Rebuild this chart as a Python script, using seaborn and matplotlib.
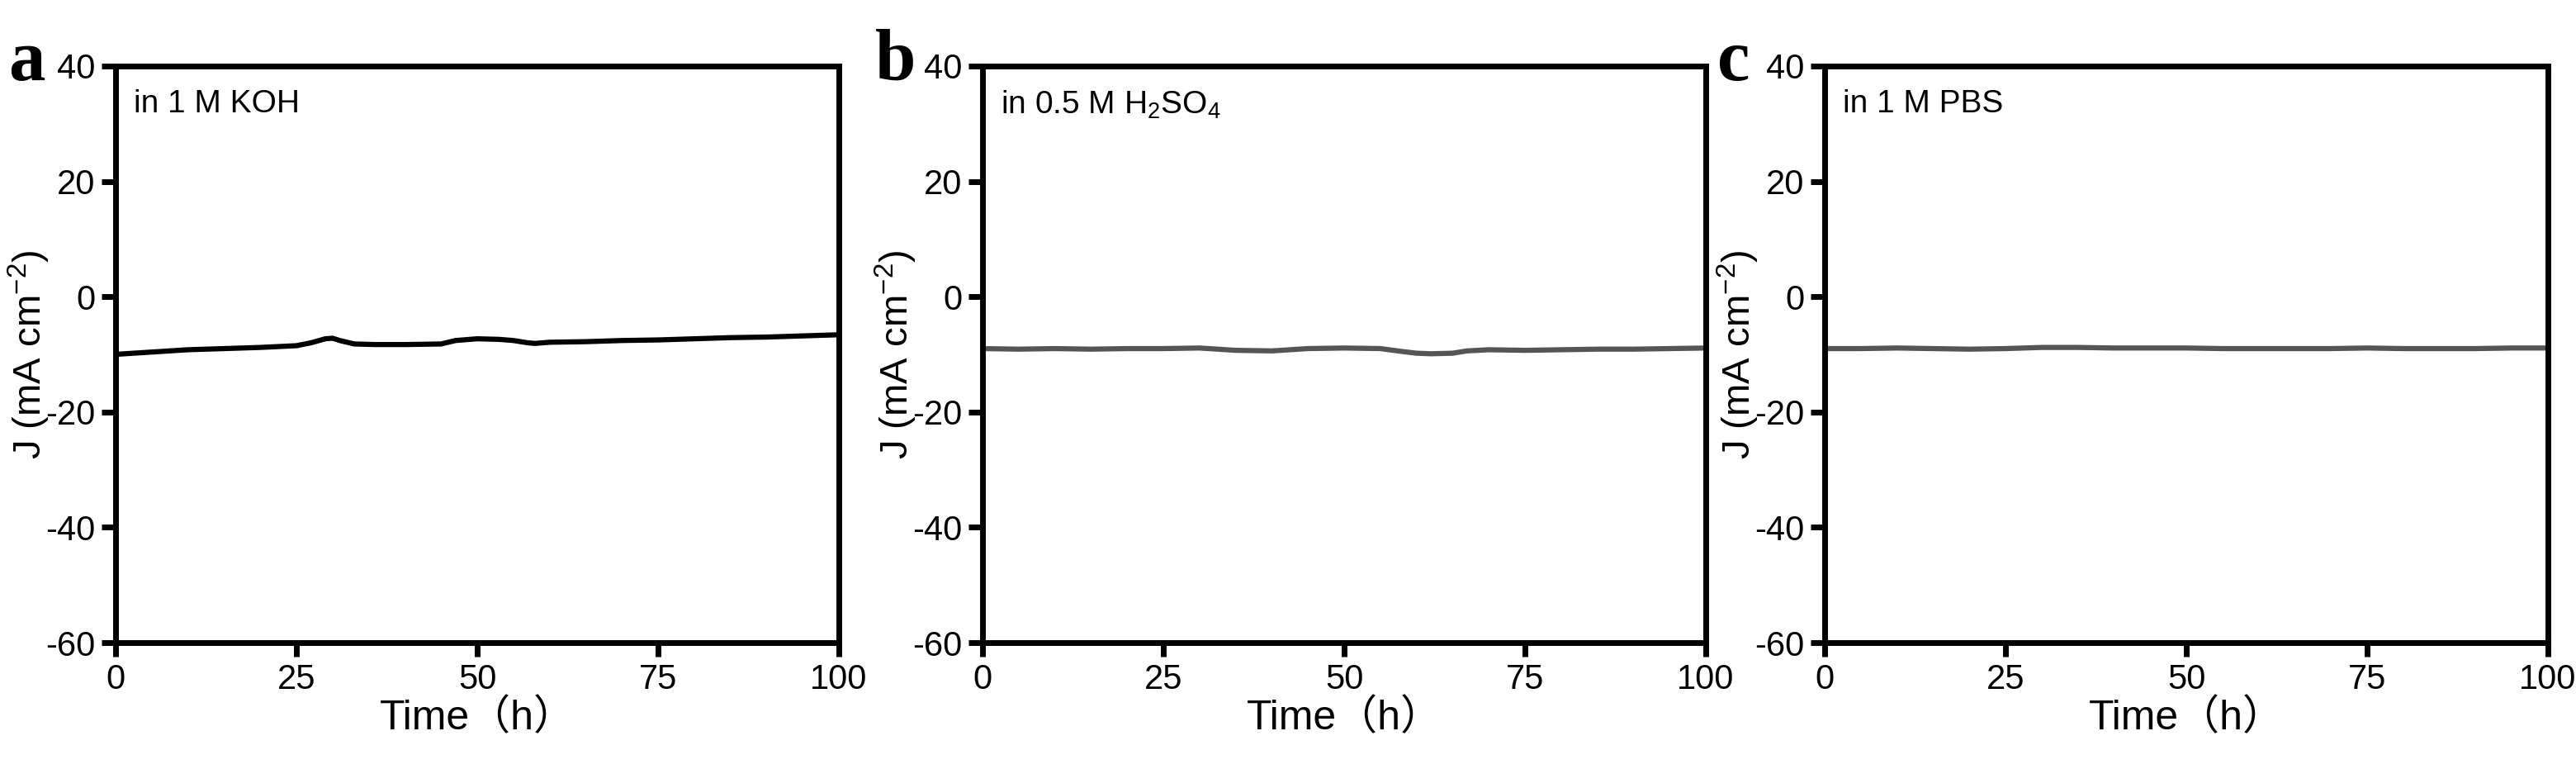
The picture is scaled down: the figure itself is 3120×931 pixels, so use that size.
import matplotlib
matplotlib.use("Agg")
import matplotlib.pyplot as plt
import seaborn as sns
import pandas as pd

time_a = [0, 5, 10, 15, 20, 25, 27, 29, 30, 31, 33, 36, 40, 45, 47, 50, 53, 55, 57, 58, 60, 65, 70, 75, 80, 85, 90, 95, 100]
j_a = [-10.0, -9.6, -9.2, -9.0, -8.8, -8.5, -8.0, -7.3, -7.2, -7.6, -8.2, -8.3, -8.3, -8.2, -7.6, -7.3, -7.4, -7.6, -8.0, -8.1, -7.9, -7.8, -7.6, -7.5, -7.3, -7.1, -7.0, -6.8, -6.6]
time_b = [0, 5, 10, 15, 20, 25, 30, 35, 40, 45, 50, 55, 58, 60, 62, 65, 67, 70, 75, 80, 85, 90, 95, 100]
j_b = [-9.0, -9.1, -9.0, -9.1, -9.0, -9.0, -8.9, -9.3, -9.4, -9.0, -8.9, -9.0, -9.5, -9.8, -9.9, -9.8, -9.4, -9.2, -9.3, -9.2, -9.1, -9.1, -9.0, -8.9]
time_c = [0, 5, 10, 15, 20, 25, 30, 35, 40, 45, 50, 55, 60, 65, 70, 75, 80, 85, 90, 95, 100]
j_c = [-9.0, -9.0, -8.9, -9.0, -9.1, -9.0, -8.8, -8.8, -8.9, -8.9, -8.9, -9.0, -9.0, -9.0, -9.0, -8.9, -9.0, -9.0, -9.0, -8.9, -8.9]

panel_letters = ["a", "b", "c"]
labels = ["in 1 M KOH", r"in 0.5 M H$_2$SO$_4$", "in 1 M PBS"]
colors = ["#000000", "#555555", "#555555"]
yticks = [-60, -40, -20, 0, 20, 40]
xticks = [0, 25, 50, 75, 100]

sns.set_theme(style="ticks")
plt.rcParams["font.family"] = ["Liberation Sans", "Noto Sans CJK SC"]
plt.rcParams["mathtext.fontset"] = "custom"
plt.rcParams["mathtext.rm"] = "Liberation Sans"
plt.rcParams["axes.unicode_minus"] = False
for k in ["text.color", "axes.labelcolor", "xtick.color", "ytick.color", "axes.edgecolor"]:
    plt.rcParams[k] = "black"

fig = plt.figure(figsize=(31.2, 9.31), dpi=100)
lefts = [140, 1190, 2210]
W, H = 3120, 931
datasets = [(time_a, j_a), (time_b, j_b), (time_c, j_c)]
for i in range(3):
    ax = fig.add_axes([lefts[i] / W, (H - 778) / H, 876 / W, 698 / H])
    df = pd.DataFrame({"t": datasets[i][0], "j": datasets[i][1]})
    sns.lineplot(data=df, x="t", y="j", ax=ax, color=colors[i], linewidth=4.5)
    ax.set_xlim(0, 100)
    ax.set_ylim(-60, 40)
    ax.set_xticks(xticks)
    ax.set_yticks(yticks)
    ax.tick_params(labelsize=30, width=5, length=12, direction="out", pad=6)
    for s in ax.spines.values():
        s.set_linewidth(5)
        s.set_visible(True)
    ax.set_xlabel("Time（h）", fontsize=36, labelpad=2)
    ax.set_ylabel(r"J (mA cm$^{-2}$)", fontsize=34, labelpad=-6)
    ax.text(0.025, 0.96, labels[i], transform=ax.transAxes, fontsize=28, va="top", ha="left")
    fig.text((lefts[i] - 130) / W, (H - 35) / H, panel_letters[i], fontsize=64, fontweight="bold",
             family="Liberation Serif", va="top", ha="left")

fig.savefig("out.png", dpi=100, facecolor="white")
